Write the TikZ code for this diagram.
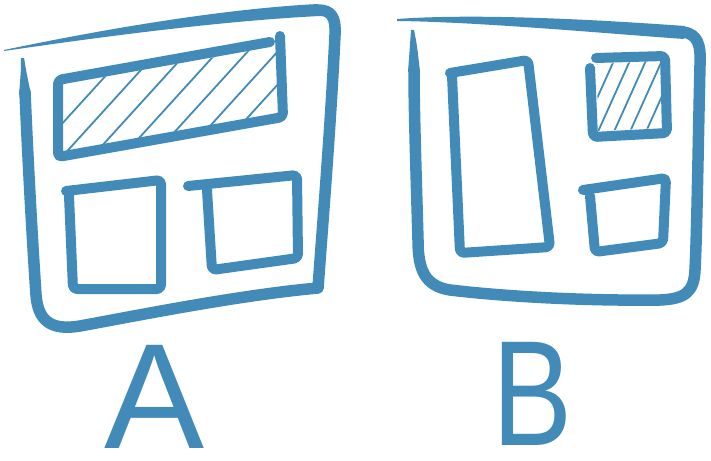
\documentclass[tikz,border=0pt]{standalone}
\usepackage{fontspec}
\setmainfont{Liberation Sans}
\definecolor{pen}{RGB}{66,139,185}
\begin{document}
\begin{tikzpicture}[x=1pt,y=-1pt,line cap=round,line join=round,
  frame/.style={draw=pen,line width=11.5pt},
  box/.style={draw=pen,line width=10pt,rounded corners=4pt},
  hatch/.style={draw=pen,line width=1.8pt},
  taper/.style={fill=pen,draw=none},
  letter/.style={text=pen,font=\fontsize{150}{150}\selectfont,inner sep=0pt,anchor=base}]
\useasboundingbox (0,0) rectangle (711,460);

% ---------- Frame A ----------
\fill[taper] (4,50) .. controls (100,30) and (220,9) .. (318,4) -- (320,16) .. controls (220,21) and (100,37) .. (4,51) -- cycle;
\draw[frame] (318,10) .. controls (332,10) and (336,18) .. (335,35)
  .. controls (331,120) and (323,220) .. (318,288)
  .. controls (240,295) and (140,315) .. (80,326)
  .. controls (50,331) and (38,320) .. (36,295)
  .. controls (31,220) and (27,140) .. (25,92);
\fill[taper] (21,58) -- (24,58) .. controls (26,70) .. (31,95) -- (19,95) .. controls (21,70) .. (21,58) -- cycle;

% top hatched box
\begin{scope}
  \clip (62,84) -- (277,46) -- (279,113) -- (62,152) -- cycle;
  \foreach \x in {20,50,...,320} \draw[hatch] (\x,170) -- ++(150,-165);
\end{scope}
\draw[box] (270,42) -- (58,80) -- (58,157) -- (283,117) -- (280,36);
% bottom-left box
\draw[box] (66,191) -- (161,180) -- (161,289) -- (73,289) -- (69,196);
% bottom-right box
\draw[box] (188,186) -- (297,175) -- (298,258) -- (212,270) -- (207,190);

% ---------- Frame B ----------
\fill[taper] (397,19) .. controls (480,13) and (600,20) .. (685,26) -- (684,39) .. controls (600,33) and (480,22) .. (397,21) -- cycle;
\draw[frame] (683,32) .. controls (698,34) and (701,45) .. (700,65)
  .. controls (698,150) and (697,230) .. (695,270)
  .. controls (694,292) and (685,299) .. (660,300)
  .. controls (580,301) and (500,296) .. (450,290)
  .. controls (425,286) and (418,270) .. (418,240)
  .. controls (416,170) and (414,110) .. (414,70);
\fill[taper] (411,30) -- (414,30) .. controls (417,45) .. (420,72) -- (408,72) .. controls (410,45) .. (411,30) -- cycle;

% tall left box
\draw[box] (450,73) -- (528,60) -- (550,247) -- (460,253) -- (452,76);
% hatched top-right box
\begin{scope}
  \clip (597,64) -- (661,61) -- (662,128) -- (598,131) -- cycle;
  \foreach \x in {560,576,...,680} \draw[hatch] (\x,145) -- ++(45,-100);
\end{scope}
\draw[box] (596,58) -- (665,56) -- (667,133) -- (593,137) -- (590,68);
% bottom-right box
\draw[box] (583,190) -- (666,178) -- (663,243) -- (595,252) -- (590,196);

% ---------- Letters ----------
\node[letter] (la) at (155,448) {A};
\node[letter,xscale=0.8] (lb) at (533,445) {B};
\end{tikzpicture}
\end{document}
